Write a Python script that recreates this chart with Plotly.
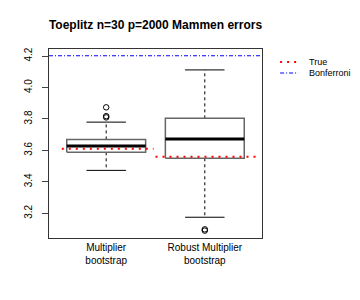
import plotly.graph_objects as go

# ---- data ----
groups = ["Multiplier<br>bootstrap", "Robust Multiplier<br>bootstrap"]
positions = [1, 2]
q1 = [3.588, 3.550]
median = [3.628, 3.672]
q3 = [3.670, 3.804]
lower_whisker = [3.473, 3.175]
upper_whisker = [3.780, 4.112]
outliers = [[3.810, 3.818, 3.874], [3.098, 3.090]]
true_values = [3.611, 3.560]
true_spans = [[0.55, 1.48], [1.50, 2.55]]
bonferroni = 4.202
y_ticks = [3.2, 3.4, 3.6, 3.8, 4.0, 4.2]
legend_labels = ["True", "Bonferroni"]

BOX_HALF = 0.4
CAP_HALF = 0.2
X_RANGE = [0.42, 2.58]

fig = go.Figure()

for i, x in enumerate(positions):
    fig.add_trace(go.Scatter(x=[x, x, None, x, x],
                             y=[q3[i], upper_whisker[i], None, q1[i], lower_whisker[i]],
                             mode="lines", line=dict(color="black", width=1, dash="3px,3px"),
                             showlegend=False, hoverinfo="skip"))
    fig.add_trace(go.Scatter(x=[x - CAP_HALF, x + CAP_HALF, None, x - CAP_HALF, x + CAP_HALF],
                             y=[upper_whisker[i], upper_whisker[i], None, lower_whisker[i], lower_whisker[i]],
                             mode="lines", line=dict(color="black", width=1),
                             showlegend=False, hoverinfo="skip"))
    fig.add_trace(go.Scatter(x=[x - BOX_HALF, x + BOX_HALF, x + BOX_HALF, x - BOX_HALF, x - BOX_HALF],
                             y=[q1[i], q1[i], q3[i], q3[i], q1[i]],
                             mode="lines", fill="toself", fillcolor="white",
                             line=dict(color="#666666", width=1.5),
                             showlegend=False, hoverinfo="skip"))
    fig.add_trace(go.Scatter(x=[x - BOX_HALF, x + BOX_HALF], y=[median[i], median[i]],
                             mode="lines", line=dict(color="black", width=3),
                             showlegend=False, hoverinfo="skip"))
    fig.add_trace(go.Scatter(x=[x] * len(outliers[i]), y=outliers[i], mode="markers",
                             marker=dict(symbol="circle-open", size=5.5, color="black", line=dict(width=1)),
                             showlegend=False, hoverinfo="skip"))

TRUE_STYLE = dict(color="red", width=2, dash="2px,5px")
BONF_STYLE = dict(color="blue", width=1, dash="4px,2px,1px,2px")

for i in range(len(positions)):
    fig.add_trace(go.Scatter(x=true_spans[i], y=[true_values[i]] * 2, mode="lines",
                             line=TRUE_STYLE, showlegend=False, hoverinfo="skip"))

fig.add_trace(go.Scatter(x=X_RANGE, y=[bonferroni] * 2, mode="lines",
                         line=BONF_STYLE, showlegend=False, hoverinfo="skip"))

# manual legend (outside plot, paper coordinates)
legend_y = [0.931, 0.873]
for lab, yy, st in zip(legend_labels, legend_y, [TRUE_STYLE, BONF_STYLE]):
    fig.add_shape(type="line", xref="paper", yref="paper", x0=1.085, x1=1.17, y0=yy, y1=yy,
                  line=st)
    fig.add_annotation(text=lab, xref="paper", yref="paper", x=1.213, y=yy, xanchor="left",
                       yanchor="middle", showarrow=False, font=dict(size=9))

fig.update_layout(
    width=360, height=300,
    margin=dict(l=49, r=98, t=49, b=62, autoexpand=False),
    paper_bgcolor="white", plot_bgcolor="white",
    showlegend=False,
    font=dict(family="Liberation Sans, Arial, sans-serif", color="black", size=10),
    title=dict(text="<b>Toeplitz n=30 p=2000 Mammen errors</b>", x=155.5 / 360, xanchor="center",
               y=1 - 25 / 300, yanchor="middle", yref="container", font=dict(size=12)),
)
fig.update_xaxes(range=X_RANGE, tickvals=positions, ticktext=groups, showgrid=False,
                 zeroline=False, showline=True, mirror=True, linecolor="#333333", linewidth=1,
                 ticks="", tickfont=dict(size=10), automargin=False)
fig.update_yaxes(range=[3.043, 4.245], tickvals=y_ticks, ticktext=[f"{v:.1f}" for v in y_ticks],
                 showgrid=False, zeroline=False, showline=True, mirror=True, linecolor="#333333",
                 linewidth=1, ticks="outside", ticklen=6, tickangle=-90, tickfont=dict(size=10),
                 ticklabelstandoff=6, automargin=False)

fig.write_html("out.html", config={"displayModeBar": False},
               post_script="document.body.style.margin='0px';")
